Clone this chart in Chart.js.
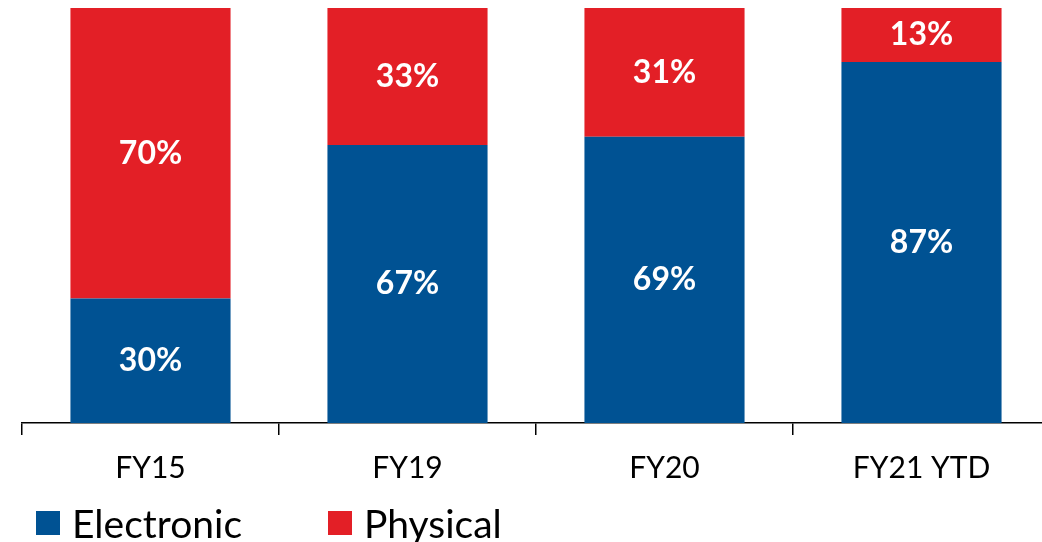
<!DOCTYPE html>
<html>
<head>
<meta charset="utf-8">
<script src="https://cdn.jsdelivr.net/npm/chart.js@4.4.1/dist/chart.umd.min.js"></script>
<style>
  html, body { margin: 0; padding: 0; background: #fff; overflow: hidden; }
  .wrap { position: relative; width: 1050px; height: 542px; }
  .legend { position: absolute; left: 36px; top: 500px; font-family: Lato, sans-serif; font-size: 39px; color: #000; display: flex; }
  .legend span.item { display: flex; align-items: center; }
  .legend span.box { width: 24px; height: 24px; display: inline-block; margin-right: 12px; }
</style>
</head>
<body>
<div class="wrap">
  <canvas id="chart" width="1050" height="542"></canvas>
  <div class="legend" id="legend"></div>
</div>
<script>
// categories and shares (%)
const categories = ['FY15', 'FY19', 'FY20', 'FY21 YTD'];
const electronic = [30, 67, 69, 87];
const physical = [70, 33, 31, 13];

const BLUE = '#005293';
const RED = '#E31F26';
const FONT = 'Lato, sans-serif';

// white % labels in the middle of each segment
const segmentLabels = {
    id: 'segmentLabels',
    afterDatasetsDraw(chart) {
        const ctx = chart.ctx;
        ctx.save();
        ctx.fillStyle = '#fff';
        ctx.font = 'bold 32px ' + FONT;
        ctx.textAlign = 'center';
        ctx.textBaseline = 'middle';
        chart.data.datasets.forEach((ds, i) => {
            chart.getDatasetMeta(i).data.forEach((bar, j) => {
                const p = bar.getProps(['x', 'y', 'base'], true);
                ctx.fillText(ds.data[j] + '%', p.x, (p.y + p.base) / 2);
            });
        });
        ctx.restore();
    }
};

const chart = new Chart(document.getElementById('chart'), {
    type: 'bar',
    data: {
        labels: categories,
        datasets: [
            { label: 'Electronic', data: electronic, backgroundColor: BLUE },
            { label: 'Physical', data: physical, backgroundColor: RED }
        ]
    },
    options: {
        responsive: false,
        animation: false,
        layout: { padding: { top: 8, left: 22, right: 0, bottom: 41 } },
        datasets: { bar: { categoryPercentage: 1, barPercentage: 0.623 } },
        plugins: {
            legend: { display: false },
            tooltip: { enabled: false }
        },
        scales: {
            x: {
                stacked: true,
                grid: { drawOnChartArea: false, drawTicks: true, tickLength: 12, color: '#000', lineWidth: 1.5 },
                border: { display: true, color: '#000', width: 1.5 },
                ticks: { color: '#000', padding: 15, font: { family: FONT, size: 30 } }
            },
            y: {
                stacked: true,
                display: false,
                min: 0,
                max: 100
            }
        }
    },
    plugins: [segmentLabels]
});

// legend built from the datasets
const legendEl = document.getElementById('legend');
const gaps = [86, 0];
chart.data.datasets.forEach((ds, i) => {
    const item = document.createElement('span');
    item.className = 'item';
    item.style.marginRight = gaps[i] + 'px';
    item.innerHTML = '<span class="box" style="background:' + ds.backgroundColor + '"></span>' + ds.label;
    legendEl.appendChild(item);
});
</script>
</body>
</html>
